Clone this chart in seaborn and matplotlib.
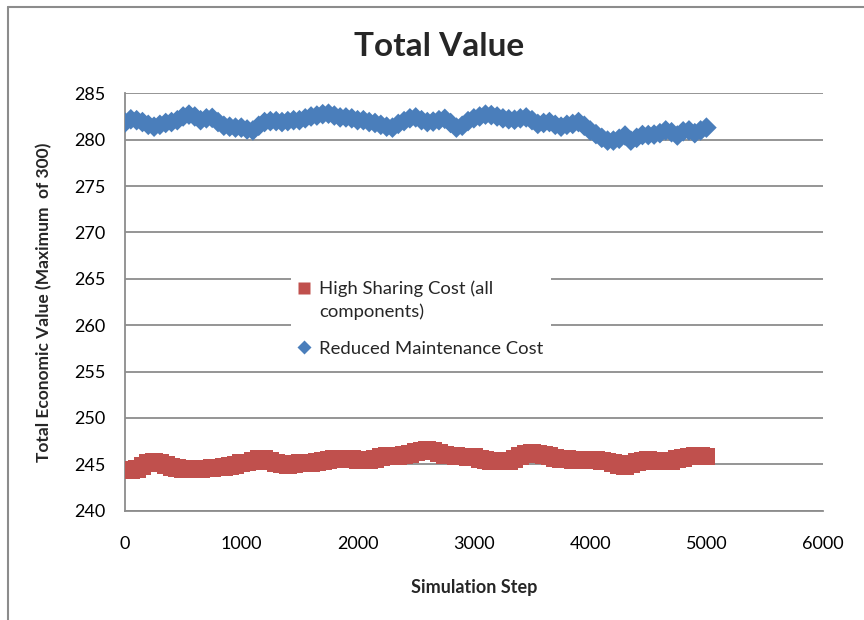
import numpy as np
import pandas as pd
import matplotlib
matplotlib.use("Agg")
import matplotlib.pyplot as plt
import seaborn as sns
from matplotlib.lines import Line2D
from matplotlib.path import Path

# Values (one point every 50 steps)
steps = list(range(0, 5001, 50))

reduced_maint = [
    281.85, 282.2, 282.1, 281.9, 281.6, 281.4, 281.6, 281.8, 281.9, 282.1,
    282.5, 282.7, 282.5, 282.1, 282.3, 282.35, 281.9, 281.5, 281.4, 281.3,
    281.3, 281.1, 281.0, 281.5, 281.9, 282.0, 282.0, 281.9, 282.0, 282.1,
    282.1, 282.3, 282.5, 282.6, 282.75, 282.8, 282.6, 282.4, 282.4, 282.3,
    282.1, 282.1, 281.9, 281.8, 281.6, 281.4, 281.3, 281.7, 282.0, 282.3,
    282.4, 282.1, 281.9, 281.95, 282.1, 282.25, 281.8, 281.3, 281.5, 282.0,
    282.3, 282.5, 282.7, 282.65, 282.5, 282.3, 282.2, 282.15, 282.3, 282.4,
    282.1, 281.7, 281.8, 281.9, 281.6, 281.4, 281.6, 281.7, 281.9, 281.5,
    281.0, 280.6, 280.2, 279.9, 279.9, 280.1, 280.45, 279.9, 280.2, 280.5,
    280.5, 280.55, 280.7, 281.0, 280.8, 280.45, 280.9, 281.0, 280.7, 281.0,
    281.3,
]

high_sharing = [
    244.45, 244.4, 244.5, 244.8, 245.2, 245.3, 245.1, 244.9, 244.7, 244.6,
    244.5, 244.5, 244.5, 244.5, 244.55, 244.6, 244.65, 244.75, 244.85, 244.95,
    245.1, 245.2, 245.4, 245.55, 245.6, 245.4, 245.1, 245.0, 244.95, 245.0,
    245.1, 245.15, 245.15, 245.25, 245.35, 245.45, 245.55, 245.6, 245.6, 245.55,
    245.5, 245.5, 245.5, 245.6, 245.8, 245.9, 245.85, 245.9, 246.0, 246.1,
    246.3, 246.45, 246.5, 246.4, 246.2, 246.0, 245.95, 245.9, 245.85, 245.8,
    245.75, 245.6, 245.45, 245.35, 245.3, 245.3, 245.4, 245.6, 245.9, 246.15,
    246.2, 246.1, 246.0, 245.9, 245.7, 245.6, 245.55, 245.5, 245.5, 245.5,
    245.5, 245.45, 245.4, 245.3, 245.1, 244.9, 244.85, 245.0, 245.25, 245.4,
    245.45, 245.4, 245.35, 245.3, 245.4, 245.55, 245.7, 245.85, 245.9, 245.9,
    245.85,
]

label_red = "High Sharing Cost (all\ncomponents)"
label_blue = "Reduced Maintenance Cost"
red = "#C0504D"
blue = "#4A7EBB"
grid_grey = "#8C8C8C"

sns.set_theme(style="white")
plt.rcParams["font.family"] = ["Lato", "DejaVu Sans"]

fig = plt.figure(figsize=(8.64, 6.2), dpi=100)
ax = fig.add_axes([125 / 864, 1 - 510.7 / 620, 697.7 / 864, 417.4 / 620])

df_red = pd.DataFrame({"step": steps, "value": high_sharing})
df_blue = pd.DataFrame({"step": steps, "value": reduced_maint})

sns.scatterplot(data=df_blue, x="step", y="value", ax=ax, marker="D", s=110,
                color=blue, edgecolor="none", linewidth=0, zorder=3)
sns.scatterplot(data=df_red, x="step", y="value", ax=ax, marker="s", s=165,
                color=red, edgecolor="none", linewidth=0, zorder=3)

ax.set_xlim(0, 6000)
ax.set_ylim(240, 285)
ax.set_xticks(range(0, 6001, 1000))
ax.set_yticks(range(240, 286, 5))
ax.grid(axis="y", color=grid_grey, linewidth=1.3)
ax.grid(axis="x", visible=False)
ax.set_axisbelow(True)
for side in ["top", "right"]:
    ax.spines[side].set_visible(False)
for side in ["left", "bottom"]:
    ax.spines[side].set_color(grid_grey)
    ax.spines[side].set_linewidth(1.3)
ax.tick_params(axis="both", length=0, labelsize=13, colors="black")
ax.tick_params(axis="y", pad=14)
ax.tick_params(axis="x", pad=18)

ax.set_xlabel("Simulation Step", fontsize=13, fontweight="bold", labelpad=20)
ax.set_ylabel("Total Economic Value (Maximum  of 300)", fontsize=12.5,
              fontweight="bold", labelpad=16)
fig.text(439 / 864, 1 - 47 / 620, "Total Value", fontsize=24,
         fontweight="bold", ha="center", va="center")

# red legend square sits on the first line of its two-line label
sq = Path([(-0.5, 0.55), (0.5, 0.55), (0.5, 1.55), (-0.5, 1.55), (-0.5, 0.55)],
          closed=True)
handles = [
    Line2D([], [], linestyle="none", marker=sq, markersize=26,
           markerfacecolor=red, markeredgecolor="none"),
    Line2D([], [], linestyle="none", marker="D", markersize=7.5,
           markerfacecolor=blue, markeredgecolor="none"),
]
leg = ax.legend(handles, [label_red, label_blue], loc="upper left",
                bbox_to_anchor=(0.224, 0.592), fontsize=13.3, frameon=True,
                handlelength=0.7, handletextpad=0.45, labelspacing=1.1,
                borderpad=0.4)
for t in leg.get_texts():
    t.set_linespacing(1.52)
leg.get_frame().set_facecolor("white")
leg.get_frame().set_edgecolor("none")
leg.get_frame().set_alpha(1)

# chart area border (left and top edges visible in the reference)
fig.add_artist(Line2D([8 / 864, 8 / 864], [0, 1 - 6.5 / 620],
                      transform=fig.transFigure, color=grid_grey, linewidth=1.5))
fig.add_artist(Line2D([8 / 864, 1], [1 - 6.5 / 620, 1 - 6.5 / 620],
                      transform=fig.transFigure, color=grid_grey, linewidth=1.5))

fig.savefig("out.png", dpi=100, facecolor="white")
